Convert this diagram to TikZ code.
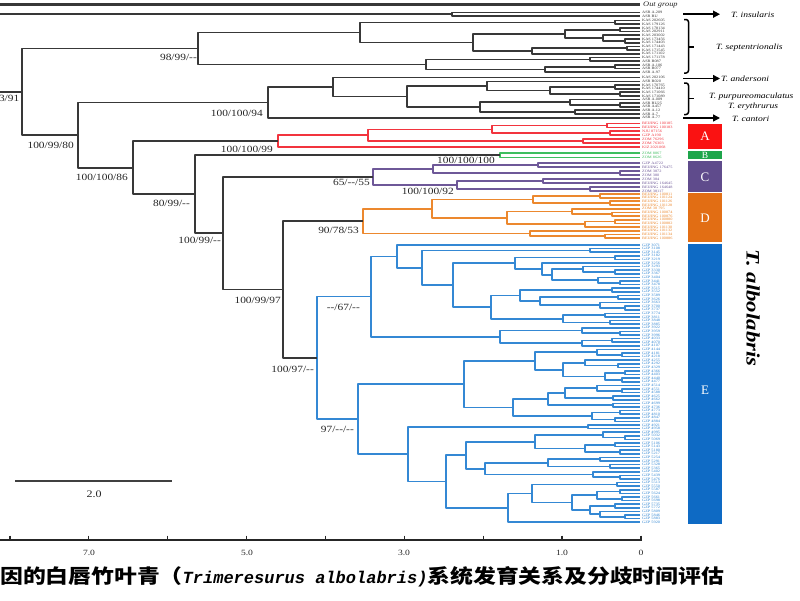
\documentclass[tikz,border=0pt]{standalone}
\usepackage{fontspec}
\usepackage{graphicx}
\setmainfont{Liberation Serif}
\newfontfamily\lblf{Liberation Serif}[FakeStretch=1.2]
\newfontfamily\cjkf{Noto Sans CJK SC}[FakeStretch=1.17]
\newfontfamily\monof{Liberation Mono}
\usetikzlibrary{arrows.meta}
\definecolor{cRed}{RGB}{242,52,62}
\definecolor{cGreen}{RGB}{62,190,95}
\definecolor{cPurple}{RGB}{110,88,152}
\definecolor{cOrange}{RGB}{236,136,46}
\definecolor{cBlue}{RGB}{52,136,212}
\definecolor{bA}{RGB}{250,18,18}
\definecolor{bB}{RGB}{30,165,75}
\definecolor{bC}{RGB}{95,75,140}
\definecolor{bD}{RGB}{226,110,20}
\definecolor{bE}{RGB}{14,106,196}
\tikzset{
  brn/.style={line width=1.7pt, line join=round},
  tb/.style={brn, draw=black!78},
  tr/.style={brn, draw=cRed},
  tg/.style={brn, draw=cGreen},
  tp/.style={brn, draw=cPurple},
  to/.style={brn, draw=cOrange},
  tbl/.style={brn, draw=cBlue},
  leaflbl/.style={anchor=west, inner sep=0pt, font=\lblf\fontsize{3.6}{3.6}\selectfont},
  bsup/.style={anchor=north east, inner sep=0pt, font=\lblf\fontsize{9.5}{10}\selectfont, text=black!85},
  spn/.style={anchor=west, inner sep=0pt, font=\lblf\itshape\fontsize{8}{9}\selectfont},
  arr/.style={-{Triangle[length=7pt,width=7pt]}, line width=1.5pt, draw=black},
  brk/.style={line width=1.5pt, draw=black, rounded corners=2.5pt},
  barlbl/.style={text=white, inner sep=0pt, font=\fontsize{13}{13}\selectfont},
  axlbl/.style={inner sep=0pt, font=\lblf\fontsize{8}{8}\selectfont, text=black!85},
}
\newcommand\mkleaves[4]{\foreach \k in {0,...,#2}{\pgfmathsetmacro\tmpy{#3+#4*\k}\expandafter\xdef\csname y#1\k\endcsname{\tmpy}\expandafter\xdef\csname x#1\k\endcsname{640}}}
\newcommand\oneleaf[2]{\expandafter\gdef\csname y#1\endcsname{#2}\expandafter\gdef\csname x#1\endcsname{640}}
\newcommand\trn[5][tb]{%
 \edef\tnXa{\csname x#4\endcsname}\edef\tnYa{\csname y#4\endcsname}%
 \edef\tnXb{\csname x#5\endcsname}\edef\tnYb{\csname y#5\endcsname}%
 \draw[#1] (\tnXa,\tnYa) -- (#3,\tnYa) -- (#3,\tnYb) -- (\tnXb,\tnYb);%
 \pgfmathsetmacro\tnYm{(\tnYa+\tnYb)/2}%
 \expandafter\xdef\csname y#2\endcsname{\tnYm}%
 \expandafter\xdef\csname x#2\endcsname{#3}}
\newcommand\mklabels[3]{\foreach \lab [count=\k from 0] in {#3}{\edef\tmpy{\csname y#1\k\endcsname}\node[leaflbl,text=#2] at (642,\tmpy) {\lab};}}
\begin{document}
\begin{tikzpicture}[x=1pt,y=-1pt]
\fill[white] (0,0) rectangle (800,600);
\useasboundingbox (0,0) rectangle (800,600);
% ---------- leaves
\mkleaves{i}{1}{12.5}{3.5}
\mkleaves{s}{14}{20.5}{3.7}
\oneleaf{and}{77.5}
\mkleaves{q}{9}{81.5}{3.6}
\oneleaf{cant}{117.8}
\mkleaves{r}{6}{123.5}{3.9}
\mkleaves{g}{1}{153}{4.5}
\mkleaves{p}{7}{163}{4}
\mkleaves{o}{12}{194}{3.67}
\mkleaves{e}{77}{245}{3.6}
% ---------- out group and insularis
\draw[tb, line width=2.2pt] (0,4.4) -- (640,4.4);
\trn{I}{452}{i0}{i1}
\edef\tmpy{\csname yI\endcsname}\draw[tb] (0,\tmpy) -- (452,\tmpy);
% ---------- septentrionalis
\trn{S1}{615}{s0}{s1}
\trn{S5}{620}{s2}{s3}
\trn{S7}{625}{s5}{s6}
\trn{S6}{603}{s4}{S7}
\trn{S3}{565}{S5}{S6}
\trn{S8}{627}{s7}{s8}
\trn{S4}{532}{S8}{s9}
\trn{S2}{473}{S3}{S4}
\trn{N3}{360}{S1}{S2}
\trn{S9}{590}{s10}{s11}
\trn{S11}{615}{s12}{s13}
\trn{S10}{545}{S11}{s14}
\trn{Nb}{426}{S9}{S10}
\trn{N2}{198}{N3}{Nb}
% ---------- andersoni, purpureomaculatus, erythrurus, cantori
\trn{Q3}{615}{q1}{q2}
\trn{Q4}{620}{q3}{q4}
\trn{Q2}{550}{Q3}{Q4}
\trn{Q1}{487}{q0}{Q2}
\trn{Q7}{620}{q6}{q7}
\trn{Q6}{570}{q5}{Q7}
\trn{Q8}{575}{q8}{q9}
\trn{Q5}{480}{Q6}{Q8}
\trn{N6b}{407}{Q1}{Q5}
\trn{N6a}{333}{and}{N6b}
\trn{N6}{268}{N6a}{cant}
% ---------- clade A (red)
\trn[tr]{R3}{607}{r0}{r1}
\trn[tr]{R4}{610}{r2}{r3}
\trn[tr]{R2}{492}{R3}{R4}
\trn[tr]{R5}{583}{r4}{r5}
\trn[tr]{R1}{368}{R2}{R5}
\trn[tr]{Rr}{278}{R1}{r6}
% ---------- clade B (green)
\trn[tg]{G}{500}{g0}{g1}
% ---------- clade C (purple)
\trn[tp]{Pa}{538}{p0}{p1}
\trn[tp]{Pc}{620}{p2}{p3}
\trn[tp]{P1}{433}{Pa}{Pc}
\trn[tp]{Pd}{543}{p4}{p5}
\trn[tp]{Pe}{590}{p6}{p7}
\trn[tp]{P2}{457}{Pd}{Pe}
\trn[tp]{Pr}{373}{P1}{P2}
% ---------- clade D (orange)
\trn[to]{D5}{600}{o0}{o1}
\trn[to]{D6}{610}{o2}{o3}
\trn[to]{D3}{533}{D5}{D6}
\trn[to]{D8}{612}{o5}{o6}
\trn[to]{D7}{572}{o4}{D8}
\trn[to]{D10}{615}{o7}{o8}
\trn[to]{D9}{585}{D10}{o9}
\trn[to]{D4}{507}{D7}{D9}
\trn[to]{D1}{432}{D3}{D4}
\trn[to]{D11}{605}{o11}{o12}
\trn[to]{D2}{530}{o10}{D11}
\trn[to]{Dr}{363}{D1}{D2}
% ---------- clade E (blue)
\trn[tbl]{A3a}{590}{e1}{e2}
\trn[tbl]{A5u}{615}{e3}{e4}
\trn[tbl]{A5e}{615}{e7}{e8}
\trn[tbl]{A5d}{583}{e6}{A5e}
\trn[tbl]{A5g}{620}{e10}{e11}
\trn[tbl]{A5f}{598}{e9}{A5g}
\trn[tbl]{A5c}{552}{A5d}{A5f}
\trn[tbl]{A5b}{542}{e5}{A5c}
\trn[tbl]{A5}{515}{A5u}{A5b}
\trn[tbl]{A6c}{612}{e12}{e13}
\trn[tbl]{A6e}{618}{e14}{e15}
\trn[tbl]{A6g}{625}{e17}{e18}
\trn[tbl]{A6f}{600}{e16}{A6g}
\trn[tbl]{A6d}{540}{A6e}{A6f}
\trn[tbl]{A6a}{520}{A6c}{A6d}
\trn[tbl]{A6h}{605}{e19}{e20}
\trn[tbl]{A6i}{610}{e21}{e22}
\trn[tbl]{A6b}{563}{A6h}{A6i}
\trn[tbl]{A6}{491}{A6a}{A6b}
\trn[tbl]{A4}{453}{A5}{A6}
\trn[tbl]{A3}{422}{A3a}{A4}
\trn[tbl]{A2}{397}{e0}{A3}
\trn[tbl]{A7b}{620}{e24}{e25}
\trn[tbl]{A7a}{582}{e23}{A7b}
\trn[tbl]{A7d}{612}{e26}{e27}
\trn[tbl]{A7c}{582}{A7d}{e28}
\trn[tbl]{A7}{500}{A7a}{A7c}
\trn[tbl]{A1}{371}{A2}{A7}
\trn[tbl]{B4b}{622}{e30}{e31}
\trn[tbl]{B4a}{597}{e29}{B4b}
\trn[tbl]{B4e}{618}{e33}{e34}
\trn[tbl]{B4d}{585}{e32}{B4e}
\trn[tbl]{B4g}{625}{e35}{e36}
\trn[tbl]{B4h}{622}{e37}{e38}
\trn[tbl]{B4f}{605}{B4g}{B4h}
\trn[tbl]{B4c}{563}{B4d}{B4f}
\trn[tbl]{B4}{535}{B4a}{B4c}
\trn[tbl]{B10a}{622}{e40}{e41}
\trn[tbl]{B10}{597}{e39}{B10a}
\trn[tbl]{B11}{613}{e42}{e43}
\trn[tbl]{B8}{565}{B10}{B11}
\trn[tbl]{B9}{613}{e44}{e45}
\trn[tbl]{B6}{548}{B8}{B9}
\trn[tbl]{B7a}{620}{e46}{e47}
\trn[tbl]{B7b}{615}{e48}{e49}
\trn[tbl]{B7}{592}{B7a}{B7b}
\trn[tbl]{B5}{513}{B6}{B7}
\trn[tbl]{B2}{464}{B4}{B5}
\trn[tbl]{B12}{588}{e50}{e51}
\trn[tbl]{B16b}{625}{e53}{e54}
\trn[tbl]{B16a}{603}{e52}{B16b}
\trn[tbl]{B16d}{615}{e55}{e56}
\trn[tbl]{B16e}{620}{e57}{e58}
\trn[tbl]{B16c}{585}{B16d}{B16e}
\trn[tbl]{B16}{535}{B16a}{B16c}
\trn[tbl]{B17b}{600}{e59}{e60}
\trn[tbl]{B17c}{610}{e61}{e62}
\trn[tbl]{B17a}{548}{B17b}{B17c}
\trn[tbl]{B17e}{620}{e64}{e65}
\trn[tbl]{B17d}{593}{e63}{B17e}
\trn[tbl]{B17}{485}{B17a}{B17d}
\trn[tbl]{B14}{466}{B16}{B17}
\trn[tbl]{B19}{617}{e66}{e67}
\trn[tbl]{B21a}{620}{e68}{e69}
\trn[tbl]{B21b}{622}{e70}{e71}
\trn[tbl]{B21}{597}{B21a}{B21b}
\trn[tbl]{B22a}{615}{e72}{e73}
\trn[tbl]{B22c}{625}{e75}{e76}
\trn[tbl]{B22b}{600}{e74}{B22c}
\trn[tbl]{B22}{590}{B22a}{B22b}
\trn[tbl]{B20}{572}{B21}{B22}
\trn[tbl]{B18}{532}{B19}{B20}
\trn[tbl]{B15}{508}{B18}{e77}
\trn[tbl]{B13}{446}{B14}{B15}
\trn[tbl]{B3}{408}{B12}{B13}
\trn[tbl]{B1}{358}{B2}{B3}
\trn[tbl]{Er}{317}{A1}{B1}
% ---------- backbone
\trn{N9}{283}{Dr}{Er}
\trn{N8}{223}{Pr}{N9}
\trn{N7}{195}{G}{N8}
\trn{N5}{133}{Rr}{N7}
\trn{N4}{78}{N6}{N5}
\trn{N1}{22}{N2}{N4}
\edef\tmpy{\csname yN1\endcsname}\draw[tb] (0,\tmpy) -- (22,\tmpy);
% ---------- support values
\node[bsup] at (19.5,95.5) {3/91};
\node[bsup] at (197,53.5) {98/99/-{}-};
\node[bsup] at (263,110) {100/100/94};
\node[bsup] at (74,141.5) {100/99/80};
\node[bsup] at (128,173.5) {100/100/86};
\node[bsup] at (273,146) {100/100/99};
\node[bsup] at (190,199.5) {80/99/-{}-};
\node[bsup] at (495,157) {100/100/100};
\node[bsup] at (370,179) {65/-{}-/55};
\node[bsup] at (454,187.5) {100/100/92};
\node[bsup] at (221,236.5) {100/99/-{}-};
\node[bsup] at (359,227) {90/78/53};
\node[bsup] at (281,297) {100/99/97};
\node[bsup] at (360,304) {-{}-/67/-{}-};
\node[bsup] at (314,365.5) {100/97/-{}-};
\node[bsup] at (354,426) {97/-{}-/-{}-};
% ---------- leaf labels
\node[leaflbl, font=\lblf\itshape\fontsize{7}{8}\selectfont, text=black!85] at (643,5) {Out group};
\mklabels{i}{black!80}{ASR A.209,ASR BU}
\mklabels{s}{black!80}{KAS 202605,KAS 179126,KAS 178134,KAS 202911,KAS 203002,KAS 173456,KAS 174403,KAS 171443,KAS 171545,KAS 171102,KAS 171178,ASR B087,ASR A.106,ASR B077,ASR A.97}
\node[leaflbl,text=black!80] at (642,77.5) {KAS 202106};
\mklabels{q}{black!80}{ASR B020,KAS 170765,KAS 174410,KAS 171066,KAS 171089,ASR A.009,ASR BU25,ASR A457,ASR A.12,ASR A.7}
\node[leaflbl,text=black!80] at (642,117.8) {ASR A.77};
\mklabels{r}{cRed}{BEIJING 100185,BEIJING 100183,NJU 87156,GZP A190,ZOM 76296,ZOM 76303,KIZ 2021068}
\mklabels{g}{cGreen}{ZOM 8867,ZOM 8626}
\mklabels{p}{cPurple}{GZP A4722,BEIJING 176475,ZOM 3872,ZOM 380,ZOM 384,BEIJING 164645,BEIJING 164648,ZOM 38117}
\mklabels{o}{cOrange}{BEIJING 100811,BEIJING 101124,BEIJING 101126,BEIJING 101128,ZOM 38 795,BEIJING 100874,BEIJING 100876,BEIJING 100880,BEIJING 100882,BEIJING 101130,BEIJING 101132,BEIJING 101134,BEIJING 100886}
\foreach \k in {0,...,77}{\pgfmathtruncatemacro\nn{3071+37*\k}\edef\tmpy{\csname ye\k\endcsname}\node[leaflbl,text=cBlue] at (642,\tmpy) {GZP \nn};}
% ---------- species annotations
\draw[arr] (683,14.2) -- (720,14.2);
\draw[arr] (683,78.5) -- (720,78.5);
\draw[arr] (683,118) -- (720,118);
\draw[brk] (684,19.5) -- (688.5,19.5) -- (688.5,73) -- (684,73);
\draw[line width=1.5pt] (688.5,47) -- (694,47);
\draw[brk] (684,83) -- (688.5,83) -- (688.5,114.5) -- (684,114.5);
\draw[line width=1.5pt] (688.5,98.5) -- (694,98.5);
\node[spn] at (731,14.5) {T. insularis};
\node[spn] at (716,48) {T. septentrionalis};
\node[spn] at (721,79) {T. andersoni};
\node[spn] at (709,96.5) {T. purpureomaculatus};
\node[spn] at (728,106.5) {T. erythrurus};
\node[spn] at (732,118.5) {T. cantori};
% ---------- clade bars
\fill[bA] (688,124) rectangle (722,148.5);
\fill[bB] (688,151) rectangle (722,159);
\fill[bC] (688,161) rectangle (722,191.5);
\fill[bD] (688,193) rectangle (722,242);
\fill[bE] (688,244) rectangle (722,524);
\node[barlbl] at (705,136.5) {A};
\node[barlbl, font=\fontsize{9.5}{9.5}\selectfont] at (705,155.3) {B};
\node[barlbl] at (705,177) {C};
\node[barlbl] at (705,218) {D};
\node[barlbl] at (705,390) {E};
\node[rotate=-90, inner sep=0pt, font=\lblf\bfseries\itshape\fontsize{19}{19}\selectfont] at (753,308) {T. albolabris};
% ---------- scale bar
\draw[line width=1.6pt, black!75] (15,481) -- (172,481);
\node[inner sep=0pt, font=\lblf\fontsize{10}{10}\selectfont, text=black!85] at (94,494) {2.0};
% ---------- time axis
\draw[line width=2pt, black!85] (0,540) -- (641,540);
\foreach \k in {0,...,8}{\draw[line width=1.4pt, black!85] ({641-78.9*\k},535.5) -- ({641-78.9*\k},541);}
\node[axlbl] at (641,553) {0};
\node[axlbl] at (562,553) {1.0};
\node[axlbl] at (404,553) {3.0};
\node[axlbl] at (247,553) {5.0};
\node[axlbl] at (89,553) {7.0};
% ---------- caption
\node[anchor=west, inner sep=0pt] at (0,577) {\cjkf\bfseries\fontsize{19.5}{20}\selectfont 因的白唇竹叶青（{\monof\itshape\fontsize{17}{17}\selectfont Trimeresurus albolabris)}系统发育关系及分歧时间评估};
\end{tikzpicture}
\end{document}
